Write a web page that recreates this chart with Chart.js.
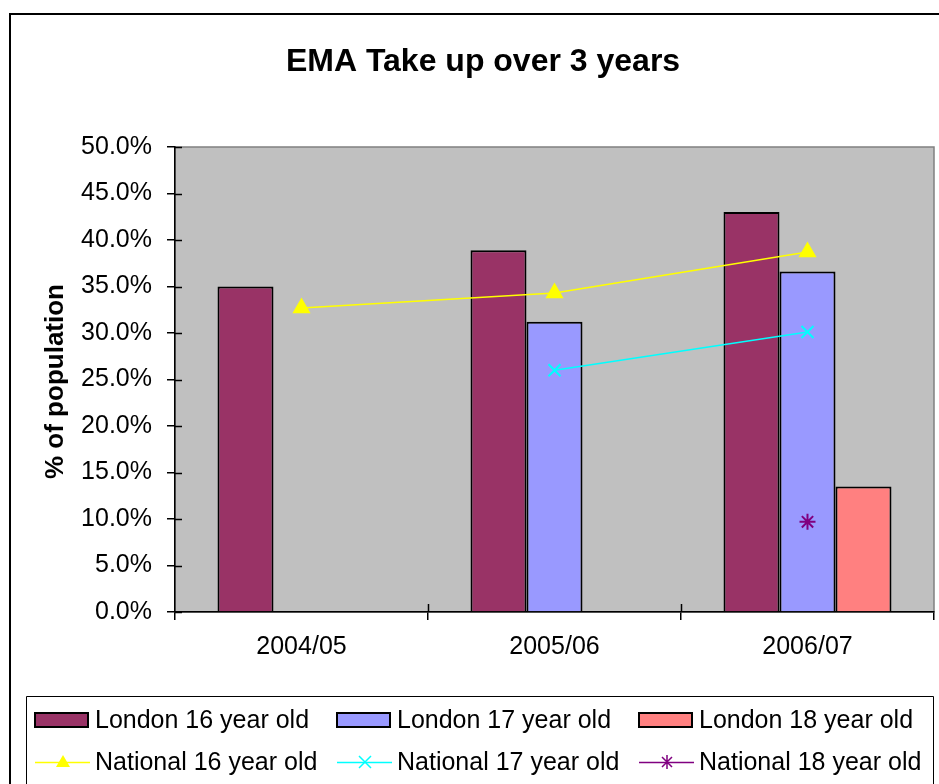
<!DOCTYPE html>
<html>
<head>
<meta charset="utf-8">
<title>EMA Take up over 3 years</title>
<script src="https://cdn.jsdelivr.net/npm/chart.js@4/dist/chart.umd.min.js"></script>
<style>
  html, body { margin: 0; padding: 0; background: #fff; }
  canvas { display: block; }
</style>
</head>
<body>
<canvas id="emaChart" width="939" height="784"></canvas>
<script>
const categories = ["2004/05", "2005/06", "2006/07"];
const london16 = [35.0, 38.9, 43.0];
const london17 = [null, 31.2, 36.6];
const london18 = [null, null, 13.5];
const national16 = [32.7, 34.3, 38.7];
const national17 = [null, 26.0, 30.1];
const national18 = [null, null, 9.7];
const yTicks = [0, 5, 10, 15, 20, 25, 30, 35, 40, 45, 50];

const FONT = "'Liberation Sans', Arial, sans-serif";

// gray plot background, outer frame, title and axis title
const backdrop = {
  id: "backdrop",
  beforeDraw(chart) {
    const { ctx, chartArea: a } = chart;
    ctx.save();
    ctx.fillStyle = "#c0c0c0";
    ctx.fillRect(a.left, a.top, a.right - a.left, a.bottom - a.top);
    ctx.strokeStyle = "#808080";
    ctx.lineWidth = 1.5;
    ctx.strokeRect(a.left, a.top, a.right - a.left, a.bottom - a.top);
    // outer chart frame
    ctx.strokeStyle = "#000";
    ctx.lineWidth = 2;
    ctx.beginPath();
    ctx.moveTo(10, 800);
    ctx.lineTo(10, 14);
    ctx.lineTo(950, 14);
    ctx.stroke();
    ctx.restore();
  },
  afterDraw(chart) {
    const { ctx, chartArea: a } = chart;
    ctx.save();
    ctx.fillStyle = "#000";
    ctx.textAlign = "center";
    ctx.textBaseline = "middle";
    ctx.font = "bold 32px " + FONT;
    ctx.fillText("EMA Take up over 3 years", 483, 62);
    ctx.translate(56, (a.top + a.bottom) / 2 + 2);
    ctx.rotate(-Math.PI / 2);
    ctx.font = "bold 26px " + FONT;
    ctx.fillText("% of population", 0, 0);
    ctx.restore();
  }
};

// excel style tick marks that cross the axes
const crossTicks = {
  id: "crossTicks",
  afterDatasetsDraw(chart) {
    const { ctx, scales: { x, y } } = chart;
    ctx.save();
    ctx.strokeStyle = "#000";
    ctx.lineWidth = 1.5;
    ctx.beginPath();
    yTicks.forEach((v) => {
      const py = Math.round(y.getPixelForValue(v)) + 0.5;
      ctx.moveTo(x.left, py);
      ctx.lineTo(x.left + 7, py);
    });
    for (let i = 1; i < categories.length; i++) {
      const px = Math.round((x.getPixelForValue(i - 1) + x.getPixelForValue(i)) / 2) + 0.5;
      ctx.moveTo(px, y.bottom);
      ctx.lineTo(px, y.bottom - 8);
    }
    ctx.stroke();
    ctx.restore();
  }
};

function drawMarker(ctx, style, cx, cy, color) {
  ctx.save();
  ctx.fillStyle = color;
  ctx.strokeStyle = color;
  ctx.lineWidth = 1.5;
  ctx.beginPath();
  if (style === "triangle") {
    ctx.moveTo(cx, cy - 7);
    ctx.lineTo(cx + 7, cy + 5);
    ctx.lineTo(cx - 7, cy + 5);
    ctx.closePath();
    ctx.fill();
  } else if (style === "crossRot") {
    ctx.moveTo(cx - 6, cy - 6); ctx.lineTo(cx + 6, cy + 6);
    ctx.moveTo(cx + 6, cy - 6); ctx.lineTo(cx - 6, cy + 6);
    ctx.stroke();
  } else {
    ctx.moveTo(cx - 5, cy - 5); ctx.lineTo(cx + 5, cy + 5);
    ctx.moveTo(cx + 5, cy - 5); ctx.lineTo(cx - 5, cy + 5);
    ctx.moveTo(cx, cy - 7); ctx.lineTo(cx, cy + 7);
    ctx.stroke();
  }
  ctx.restore();
}

// boxed two-row legend like the excel one
const boxLegend = {
  id: "boxLegend",
  afterDraw(chart) {
    const { ctx } = chart;
    const cols = [35, 337, 639];
    const rows = [720, 762];
    ctx.save();
    ctx.strokeStyle = "#000";
    ctx.lineWidth = 1;
    ctx.beginPath();
    ctx.moveTo(26.5, 790);
    ctx.lineTo(26.5, 696.5);
    ctx.lineTo(933.5, 696.5);
    ctx.lineTo(933.5, 790);
    ctx.stroke();
    ctx.font = "25px " + FONT;
    ctx.textBaseline = "middle";
    ctx.textAlign = "left";
    chart.data.datasets.forEach((ds, i) => {
      const cx = cols[i % 3];
      const cy = rows[Math.floor(i / 3)];
      if (ds.type === "bar") {
        ctx.fillStyle = ds.backgroundColor;
        ctx.fillRect(cx, cy - 7, 53, 14);
        ctx.strokeStyle = "#000";
        ctx.lineWidth = 2;
        ctx.strokeRect(cx, cy - 7, 53, 14);
      } else {
        ctx.strokeStyle = ds.borderColor;
        ctx.lineWidth = 1.5;
        ctx.beginPath();
        ctx.moveTo(cx, cy + 0.5);
        ctx.lineTo(cx + 55, cy + 0.5);
        ctx.stroke();
        drawMarker(ctx, ds.pointStyle, cx + 28, cy, ds.borderColor);
      }
      ctx.fillStyle = "#000";
      ctx.fillText(ds.label, cx + 60, cy + 1);
    });
    ctx.restore();
  }
};

const barDefaults = { type: "bar", borderColor: "#000", borderWidth: 2, order: 2 };
const lineDefaults = {
  type: "line", borderWidth: 1.5, tension: 0, order: 1,
  pointRadius: 8.5, pointBorderWidth: 2, pointHoverRadius: 8.5
};

const ctx = document.getElementById("emaChart").getContext("2d");
new Chart(ctx, {
  data: {
    labels: categories,
    datasets: [
      { ...barDefaults, label: "London 16 year old", data: london16, backgroundColor: "#993366" },
      { ...barDefaults, label: "London 17 year old", data: london17, backgroundColor: "#9999ff" },
      { ...barDefaults, label: "London 18 year old", data: london18, backgroundColor: "#ff8080" },
      { ...lineDefaults, label: "National 16 year old", data: national16, borderColor: "#ffff00",
        backgroundColor: "#ffff00", pointStyle: "triangle" },
      { ...lineDefaults, label: "National 17 year old", data: national17, borderColor: "#00ffff",
        backgroundColor: "#00ffff", pointStyle: "crossRot" },
      { ...lineDefaults, label: "National 18 year old", data: national18, borderColor: "#800080",
        backgroundColor: "#800080", pointStyle: "star", pointRadius: 8 }
    ]
  },
  options: {
    responsive: false,
    animation: false,
    layout: { autoPadding: false, padding: { top: 147, right: 5, left: 0, bottom: 0 } },
    datasets: { bar: { categoryPercentage: 0.664, barPercentage: 1.0 } },
    plugins: { legend: { display: false }, tooltip: { enabled: false }, title: { display: false } },
    scales: {
      x: {
        offset: true,
        afterFit(scale) { scale.height = 172; },
        border: { color: "#000", width: 1.5 },
        grid: { offset: true, drawOnChartArea: false, tickLength: 8, color: "#000", lineWidth: 1.5 },
        ticks: { color: "#000", padding: 12, font: { family: FONT, size: 25 } }
      },
      y: {
        min: 0,
        max: 50,
        afterFit(scale) { scale.width = 175; },
        afterBuildTicks(scale) { scale.ticks = yTicks.map((v) => ({ value: v })); },
        border: { color: "#000", width: 1.5 },
        grid: { drawOnChartArea: false, tickLength: 8, color: "#000", lineWidth: 1.5 },
        ticks: {
          color: "#000", padding: 15, font: { family: FONT, size: 25 },
          callback: (v) => v.toFixed(1) + "%"
        }
      }
    }
  },
  plugins: [backdrop, crossTicks, boxLegend]
});
</script>
</body>
</html>
